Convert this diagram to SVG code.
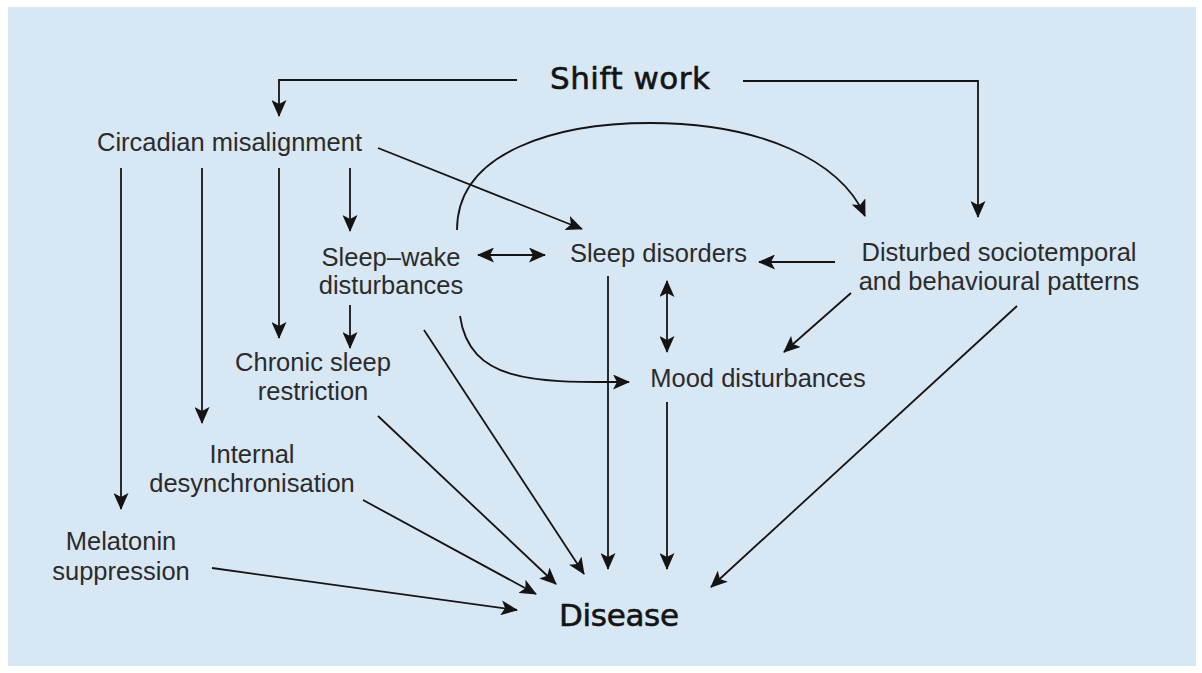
<svg xmlns="http://www.w3.org/2000/svg" width="1202" height="673" viewBox="0 0 1202 673">
<defs>
<marker id="ah" viewBox="0 0 17 15" markerWidth="17" markerHeight="15" refX="16" refY="7.5" orient="auto-start-reverse" markerUnits="userSpaceOnUse">
<path d="M0,0 L17,7.5 L0,15 L4,7.5 z" fill="#141414"/>
</marker>
</defs>
<style>
.bg{fill:#d8e7f4}
.lbl{font-family:"Liberation Sans",Arial,sans-serif;font-size:25.5px;fill:#2b2b2b;text-anchor:middle}
.ttl{font-family:"DejaVu Sans","Liberation Sans",sans-serif;font-size:31px;fill:#141414;stroke:#141414;stroke-width:0.6;text-anchor:middle}
.c{fill:none;stroke:#141414;stroke-width:1.8;marker-end:url(#ah)}
.d{marker-start:url(#ah)}
</style>
<rect class="bg" x="8" y="7" width="1188" height="659"/>
<g id="connectors">
<path class="c" d="M517,80 H279 V116"/>
<path class="c" d="M743,81 H978 V217"/>
<path class="c" d="M121,168 V509"/>
<path class="c" d="M202,168 V423"/>
<path class="c" d="M279,168 V338"/>
<path class="c" d="M350,168 V231"/>
<path class="c" d="M378,148 L582,229"/>
<path class="c" d="M457,230 C457,150 560,123 650,123 C760,123 840,160 865,216"/>
<path class="c d" d="M478,255 H545"/>
<path class="c" d="M835,262 H759"/>
<path class="c" d="M350,305 V348"/>
<path class="c d" d="M667,281 V352"/>
<path class="c" d="M460,316 C470,385 540,382 629,382"/>
<path class="c" d="M851,293 L784,352"/>
<path class="c" d="M1017,306 L711,587"/>
<path class="c" d="M608,276 V569"/>
<path class="c" d="M667,402 V569"/>
<path class="c" d="M424,330 L584,574"/>
<path class="c" d="M378,416 L556,584"/>
<path class="c" d="M363,500 L536,594"/>
<path class="c" d="M212,568 L517,610"/>
</g>
<g id="shift-work"><text class="ttl" x="630" y="89" textLength="160">Shift work</text></g>
<g id="circadian"><text class="lbl" x="229.5" y="151">Circadian misalignment</text></g>
<g id="sleep-wake"><text class="lbl" x="391" y="266">Sleep–wake</text><text class="lbl" x="391" y="294">disturbances</text></g>
<g id="sleep-disorders"><text class="lbl" x="658.5" y="262">Sleep disorders</text></g>
<g id="disturbed"><text class="lbl" x="999" y="261">Disturbed sociotemporal</text><text class="lbl" x="999" y="290">and behavioural patterns</text></g>
<g id="chronic"><text class="lbl" x="313" y="371">Chronic sleep</text><text class="lbl" x="313" y="400">restriction</text></g>
<g id="mood"><text class="lbl" x="758" y="387">Mood disturbances</text></g>
<g id="internal"><text class="lbl" x="252" y="463">Internal</text><text class="lbl" x="252" y="492">desynchronisation</text></g>
<g id="melatonin"><text class="lbl" x="121" y="550">Melatonin</text><text class="lbl" x="121" y="580">suppression</text></g>
<g id="disease"><text class="ttl" x="619" y="626" textLength="120">Disease</text></g>
</svg>
